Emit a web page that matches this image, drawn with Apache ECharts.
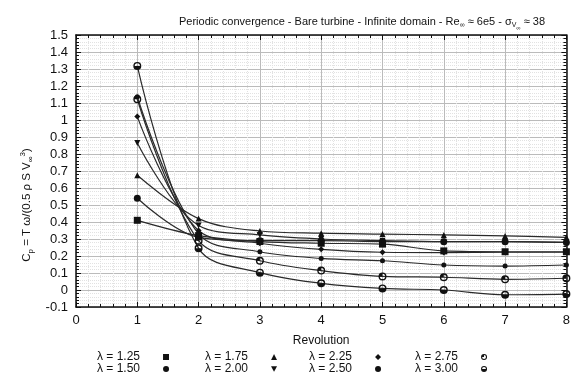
<!DOCTYPE html>
<html>
<head>
<meta charset="utf-8">
<script src="https://cdn.jsdelivr.net/npm/echarts@6/dist/echarts.min.js"></script>
<style>
html,body{margin:0;padding:0;background:#fff;}
#chart{width:573px;height:381px;}
</style>
</head>
<body>
<div id="chart"></div>
<script>
// revolutions
var revolutions = [1, 2, 3, 4, 5, 6, 7, 8];
var lambdas = ['1.25', '1.50', '1.75', '2.00', '2.25', '2.50', '2.75', '3.00'];

// Cp per tip speed ratio
var cp125 = [0.41, 0.32, 0.285, 0.275, 0.27, 0.23, 0.225, 0.225];
var cp150 = [0.54, 0.31, 0.29, 0.29, 0.285, 0.284, 0.284, 0.28];
var cp175 = [0.675, 0.42, 0.347, 0.334, 0.329, 0.324, 0.318, 0.31];
var cp200 = [0.865, 0.38, 0.324, 0.30, 0.29, 0.284, 0.284, 0.28];
var cp225 = [1.02, 0.35, 0.275, 0.239, 0.222, 0.22, 0.222, 0.222];
var cp250 = [1.137, 0.33, 0.225, 0.186, 0.172, 0.147, 0.141, 0.147];
var cp275 = [1.122, 0.29, 0.172, 0.114, 0.08, 0.075, 0.063, 0.069];
var cp300 = [1.318, 0.245, 0.102, 0.039, 0.009, 0.0, -0.028, -0.024];

var xTicks = [0, 1, 2, 3, 4, 5, 6, 7, 8];

var triDown = 'path://M0,0 L10,0 L5,9 Z';
var halfCircle = 'path://M0,-10 A10,10 0 1,1 0,10 A10,10 0 1,1 0,-10 Z M0,-6.5 A6.5,6.5 0 1,0 0,6.5 A6.5,6.5 0 1,0 0,-6.5 Z M-6.5,0 A6.5,6.5 0 0,0 6.5,0 Z';
var quarterCircle = 'path://M0,-10 A10,10 0 1,1 0,10 A10,10 0 1,1 0,-10 Z M0,-6.5 A6.5,6.5 0 1,0 0,6.5 A6.5,6.5 0 1,0 0,-6.5 Z M0,0 L0,-6.5 A6.5,6.5 0 0,0 -6.5,0 Z';

var allCp = [cp125, cp150, cp175, cp200, cp225, cp250, cp275, cp300];
var symbols = ['rect', 'circle', 'triangle', triDown, 'diamond', 'circle', quarterCircle, halfCircle];
var sizes = [7, 7, 6, 6, 6, 5, 8, 8];

function pairs(arr) {
  return revolutions.map(function (r, i) { return [r, arr[i]]; });
}

var series = lambdas.map(function (l, i) {
  return {
    name: 'λ = ' + l,
    type: 'line',
    smooth: 0.35,
    symbol: symbols[i],
    symbolSize: sizes[i],
    showAllSymbol: true,
    lineStyle: { color: '#2a2a2a', width: 1.2 },
    itemStyle: { color: '#111', borderWidth: 0 },
    emphasis: { disabled: true },
    data: pairs(allCp[i])
  };
});

function legendCol(idx, left) {
  return {
    orient: 'vertical',
    left: left,
    top: 351,
    padding: 0,
    itemGap: 0,
    itemWidth: 6,
    itemHeight: 6,
    align: 'right',
    selectedMode: false,
    textStyle: { fontFamily: 'Liberation Sans', fontSize: 12, color: '#111', lineHeight: 11, padding: [0, 18, 0, 0] },
    data: idx.map(function (k) {
      return { name: 'λ = ' + lambdas[k], icon: symbols[k] };
    })
  };
}

var myChart = echarts.init(document.getElementById('chart'), null, { renderer: 'canvas' });

var axisFrame = { onZero: false, lineStyle: { color: '#111', width: 1.5 } };

var option = {
  backgroundColor: '#fff',
  animation: false,
  title: {
    text: 'Periodic convergence - Bare turbine - Infinite domain - Re{sub|∞} ≈ 6e5 - σ{sub|V}{sub2|∞} ≈ 38',
    left: 174,
    top: 7,
    textStyle: {
      fontFamily: 'Liberation Sans', fontSize: 11, fontWeight: 'normal', color: '#111',
      rich: {
        sub: { fontFamily: 'Liberation Sans', fontSize: 7, color: '#111', padding: [7, 0, 0, 0] },
        sub2: { fontFamily: 'Liberation Sans', fontSize: 6, color: '#111', padding: [13, 0, 0, 0] }
      }
    }
  },
  legend: [
    legendCol([0, 1], 97),
    legendCol([2, 3], 205),
    legendCol([4, 5], 309),
    legendCol([6, 7], 415)
  ],
  grid: { left: 76, right: 3, top: 35, bottom: 74 },
  xAxis: [{
    type: 'value',
    min: 0, max: 8, interval: 1,
    name: 'Revolution',
    nameLocation: 'middle',
    nameGap: 28,
    nameTextStyle: { fontFamily: 'Liberation Sans', fontSize: 12, color: '#111' },
    axisLine: axisFrame,
    axisTick: { inside: true, length: 5, lineStyle: { color: '#111' } },
    minorTick: { show: true, splitNumber: 5, length: 3, lineStyle: { color: '#111' } },
    axisLabel: { fontFamily: 'Liberation Sans', fontSize: 13, color: '#111', margin: 7,
      formatter: function (v) { return xTicks.indexOf(v) >= 0 ? String(v) : ''; } },
    splitLine: { show: true, lineStyle: { color: '#bbb', width: 1 } },
    minorSplitLine: { show: true, lineStyle: { color: '#e2e2e2', type: 'dotted' } }
  }, {
    type: 'value',
    position: 'top',
    min: 0, max: 8, interval: 1,
    axisLine: axisFrame,
    axisTick: { inside: true, length: 5, lineStyle: { color: '#111' } },
    minorTick: { show: true, splitNumber: 5, length: 3, lineStyle: { color: '#111' } },
    axisLabel: { show: false },
    splitLine: { show: false }
  }],
  yAxis: [{
    type: 'value',
    min: -0.1, max: 1.5, interval: 0.1,
    name: 'C{sub|p} = T ω/(0.5 ρ S V{sub|∞}{sup|3})',
    nameLocation: 'middle',
    nameGap: 37,
    nameTextStyle: {
      fontFamily: 'Liberation Sans', fontSize: 11.5, color: '#111',
      padding: [0, 68, 0, 0],
      rich: {
        sub: { fontFamily: 'Liberation Sans', fontSize: 8, color: '#111', padding: [8, 0, 0, 0] },
        sup: { fontFamily: 'Liberation Sans', fontSize: 8, color: '#111', padding: [0, 0, 8, 0] }
      }
    },
    axisLine: { show: true, onZero: false, lineStyle: { color: '#111', width: 1.5 } },
    axisTick: { show: true, inside: true, length: 5, lineStyle: { color: '#111' } },
    minorTick: { show: true, splitNumber: 5, length: 3, lineStyle: { color: '#111' } },
    axisLabel: { fontFamily: 'Liberation Sans', fontSize: 13, color: '#111', margin: 8,
      formatter: function (v) { return String(Math.round(v * 10) / 10); } },
    splitLine: { show: true, lineStyle: { color: '#bbb', width: 1 } },
    minorSplitLine: { show: true, lineStyle: { color: '#e2e2e2', type: 'dotted' } }
  }, {
    type: 'value',
    position: 'right',
    min: -0.1, max: 1.5, interval: 0.1,
    axisLine: { show: true, onZero: false, lineStyle: { color: '#111', width: 1.5 } },
    axisTick: { show: true, inside: true, length: 5, lineStyle: { color: '#111' } },
    minorTick: { show: true, splitNumber: 5, length: 3, lineStyle: { color: '#111' } },
    axisLabel: { show: false },
    splitLine: { show: false }
  }],
  series: series
};

myChart.setOption(option);
</script>
</body>
</html>
